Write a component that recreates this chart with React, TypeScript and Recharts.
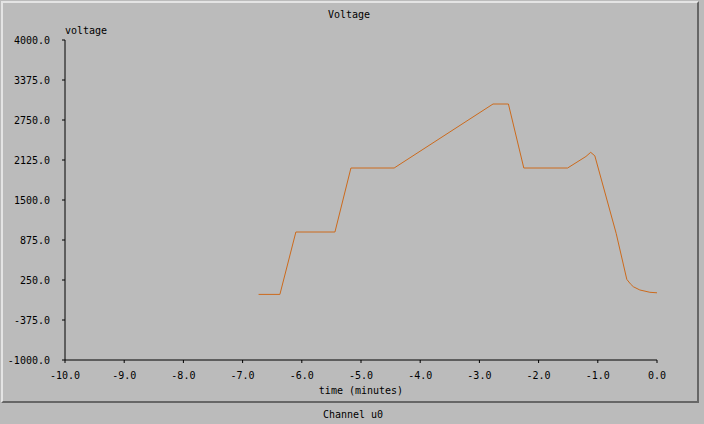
import { LineChart, Line, XAxis, YAxis } from 'recharts'

const times = [-6.73, -6.37, -6.1, -5.44, -5.17, -4.44, -2.77, -2.51, -2.25, -1.51, -1.2, -1.12, -1.05, -0.69, -0.51, -0.45, -0.4, -0.29, -0.12, 0]
const voltages = [25, 25, 1000, 1000, 2000, 2000, 3000, 3000, 2000, 2000, 2180, 2245, 2190, 980, 260, 190, 145, 94, 58, 50]

const xTicks = [-10, -9, -8, -7, -6, -5, -4, -3, -2, -1, 0]
const yTicks = [-1000, -375, 250, 875, 1500, 2125, 2750, 3375, 4000]

const data = times.map((t, i) => ({ time: t, voltage: voltages[i] }))

const font = '"DejaVu Sans Mono", monospace'
const tickStyle = { fontFamily: font, fontSize: 10, fill: '#000' }
const fmt = (v: number) => v.toFixed(1)

export default function App() {
  return (
    <div style={{ position: 'absolute', left: 0, top: 0, width: 704, height: 424, background: '#bbbbbb', fontFamily: font, fontSize: 10, color: '#000' }}>
      <div style={{ position: 'absolute', left: 1, top: 1, width: 694, height: 398, borderTop: '2px solid #e4e4e4', borderLeft: '2px solid #e4e4e4', borderBottom: '2px solid #666', borderRight: '2px solid #666' }} />
      <div style={{ position: 'absolute', left: 0, width: 698, top: 9, textAlign: 'center' }}>Voltage</div>
      <div style={{ position: 'absolute', left: 65, top: 25 }}>voltage</div>
      <div style={{ position: 'absolute', left: 65, width: 592, top: 385, textAlign: 'center' }}>time (minutes)</div>
      <div style={{ position: 'absolute', left: 0, width: 706, top: 409, textAlign: 'center' }}>Channel u0</div>
      <div style={{ position: 'absolute', left: 0, top: 0 }}>
        <LineChart width={704} height={424} data={data} margin={{ top: 40, right: 47, bottom: 34, left: 0 }}>
          <XAxis dataKey="time" type="number" domain={[-10, 0]} ticks={xTicks} tickFormatter={fmt}
            stroke="#000" tickSize={3} tickMargin={9} height={30} tick={tickStyle} interval={0} />
          <XAxis xAxisId="top" orientation="top" type="number" domain={[-10, 0]} stroke="#000"
            tick={false} tickLine={false} height={0} />
          <YAxis domain={[-1000, 4000]} ticks={yTicks} tickFormatter={fmt} stroke="#000"
            tickSize={3} tickMargin={12} width={65} tick={tickStyle} interval={0} />
          <YAxis yAxisId="right" orientation="right" domain={[-1000, 4000]} stroke="#000"
            tick={false} tickLine={false} width={0} />
          <Line dataKey="voltage" type="linear" stroke="#cc6a1c" strokeWidth={1} dot={false} isAnimationActive={false} />
        </LineChart>
      </div>
    </div>
  )
}
